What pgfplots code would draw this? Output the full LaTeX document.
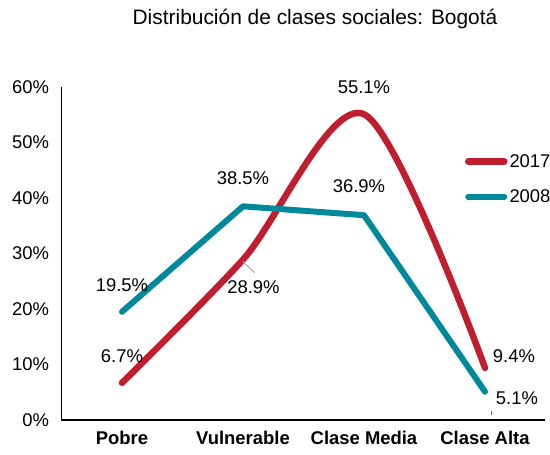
\documentclass[border=0pt]{standalone}
\usepackage{pgfplots}
\pgfplotsset{compat=1.18}
\usepackage{fontspec}
\setmainfont{Liberation Sans}
\definecolor{cred}{RGB}{190,30,45}
\definecolor{cteal}{RGB}{0,136,155}
\begin{document}
\begin{tikzpicture}
\path[use as bounding box] (-61.5bp,-35bp) rectangle (488.5bp,420bp);
\begin{axis}[
 at={(0,0)}, anchor=south west,
 scale only axis, width=484bp, height=333bp,
 xmin=-0.5, xmax=3.5, ymin=0, ymax=60,
 axis x line=bottom, axis y line=left,
 axis line style={line width=1.6bp, black, -},
 xtick={0,1,2,3}, xticklabels={Pobre,Vulnerable,Clase Media,Clase Alta},
 ytick={0,10,...,60}, yticklabels={0\%,10\%,20\%,30\%,40\%,50\%,60\%},
 major tick length=0pt,
 xticklabel style={font=\fontsize{18.5}{21}\selectfont\bfseries, yshift=-8bp},
 yticklabel style={font=\fontsize{18.5}{21}\selectfont, xshift=-9bp},
 clip=false,
 legend style={at={(0.8337,0.7237)}, anchor=west, draw=none, fill=none,
   inner sep=0pt, outer sep=0pt, row sep=17bp,
   font=\fontsize{18.5}{21}\selectfont, legend cell align=left},
 legend image code/.code={\draw[#1, line cap=round] (0bp,0bp) -- (36bp,0bp);},
]
\addplot[cred, line width=6.5bp, smooth, tension=0.5, line cap=round] coordinates {(0,6.7) (1,28.9) (2,55.1) (3,9.4)};
\addlegendentry{2017}
\addplot[cteal, line width=6bp, line cap=round, line join=round] coordinates {(0,19.5) (1,38.5) (2,36.9) (3,5.1)};
\addlegendentry{2008}
\begin{scope}[every node/.style={font=\fontsize{18.5}{21}\selectfont}]
\node at ([yshift=27bp]axis cs:0,19.5) {19.5\%};
\node at ([yshift=27bp]axis cs:0,6.7) {6.7\%};
\node at ([yshift=28bp]axis cs:1,38.5) {38.5\%};
\node at ([xshift=10.5bp,yshift=-28bp]axis cs:1,28.9) {28.9\%};
\node at ([yshift=27bp]axis cs:2,55.1) {55.1\%};
\node at ([xshift=-5bp,yshift=29bp]axis cs:2,36.9) {36.9\%};
\node at ([xshift=29bp,yshift=12bp]axis cs:3,9.4) {9.4\%};
\node at ([xshift=32bp,yshift=-6bp]axis cs:3,5.1) {5.1\%};
\end{scope}
\draw[gray!70, line width=1bp] ([yshift=-2bp]axis cs:1,28.9) -- ([xshift=11.5bp,yshift=-13bp]axis cs:1,28.9);
\draw[cteal, line width=1bp] ([xshift=6.5bp,yshift=-19bp]axis cs:3,5.1) -- ([xshift=6.5bp,yshift=-23bp]axis cs:3,5.1);
\end{axis}
\node at (253.5bp,401bp) {\fontsize{21}{24}\selectfont Distribución de clases sociales: Bogotá};
\end{tikzpicture}
\end{document}
